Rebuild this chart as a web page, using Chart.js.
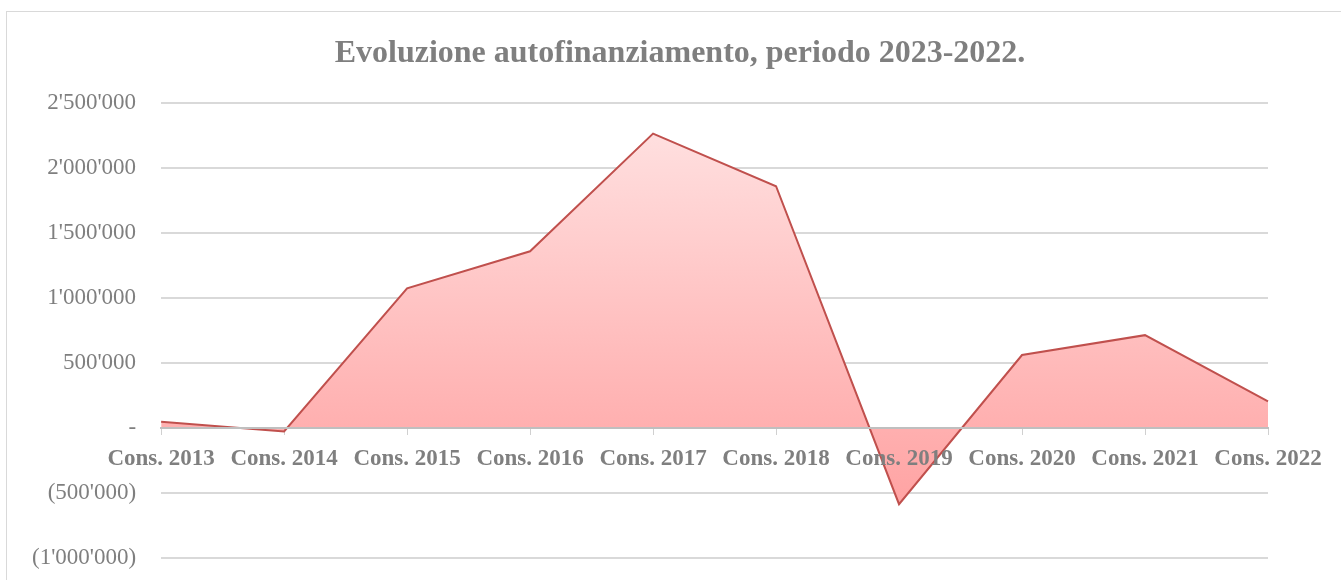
<!DOCTYPE html>
<html>
<head>
<meta charset="utf-8">
<script src="https://cdn.jsdelivr.net/npm/chart.js@4"></script>
<style>
  html, body { margin: 0; background: #fff; overflow: hidden; }
  #frame { position: absolute; left: 6px; top: 11px; width: 1400px; height: 600px; border: 1px solid #d9d9d9; }
  #wrap { position: absolute; left: 0; top: 0; width: 1341px; height: 597px; }
</style>
</head>
<body>
<div id="frame"></div>
<div id="wrap"><canvas id="chart"></canvas></div>
<script>
const labels = ['Cons. 2013', 'Cons. 2014', 'Cons. 2015', 'Cons. 2016', 'Cons. 2017', 'Cons. 2018', 'Cons. 2019', 'Cons. 2020', 'Cons. 2021', 'Cons. 2022'];
const autofinanziamento = [50000, -25000, 1075000, 1360000, 2265000, 1860000, -585000, 562000, 715000, 205000];
const yTicks = { min: -1000000, max: 2500000, step: 500000 };
const titleText = 'Evoluzione autofinanziamento, periodo 2023-2022.';

const grey = '#7f7f7f';
const serif = "'Liberation Serif', 'DejaVu Serif', serif";

function fmt(v) {
  const s = Math.abs(v).toString().replace(/\B(?=(\d{3})+(?!\d))/g, "'");
  if (v === 0) return '-';
  return v < 0 ? '(' + s + ')' : s;
}

// title centred on the frame, not on the padded layout box
const frameTitle = {
  id: 'frameTitle',
  afterDraw(chart) {
    const { ctx } = chart;
    ctx.save();
    ctx.font = 'bold 32px ' + serif;
    ctx.fillStyle = grey;
    ctx.textAlign = 'center';
    ctx.textBaseline = 'alphabetic';
    ctx.fillText(titleText, 680, 62);
    ctx.restore();
  },
};

const config = {
  type: 'line',
  data: {
    labels: labels,
    datasets: [
      {
        label: 'Autofinanziamento',
        data: autofinanziamento,
        borderColor: '#c0504d',
        borderWidth: 2,
        pointRadius: 0,
        tension: 0,
        fill: 'origin',
        backgroundColor: (context) => {
          const { chart } = context;
          const { ctx, chartArea, scales } = chart;
          if (!chartArea) return '#ffc0c0';
          const top = scales.y.getPixelForValue(Math.max(...autofinanziamento));
          const bottom = scales.y.getPixelForValue(Math.min(...autofinanziamento));
          const g = ctx.createLinearGradient(0, top, 0, bottom);
          g.addColorStop(0, '#ffdfdf');
          g.addColorStop(1, '#ffa3a3');
          return g;
        },
      },
    ],
  },
  options: {
    responsive: true,
    maintainAspectRatio: false,
    animation: false,
    layout: {
      padding: { left: 7, right: 73, top: 103, bottom: 0 },
    },
    scales: {
      x: {
        position: { y: 0 },
        offset: false,
        grid: { drawOnChartArea: false, drawTicks: true, tickLength: 6, color: '#d0d0d0' },
        border: { color: '#bfbfbf', width: 2, z: 1 },
        ticks: {
          z: 1,
          color: grey,
          autoSkip: false,
          maxRotation: 0,
          padding: 11,
          font: { family: serif, size: 23, weight: 'bold' },
        },
      },
      y: {
        min: yTicks.min,
        max: yTicks.max,
        ticks: {
          stepSize: yTicks.step,
          color: grey,
          padding: 25,
          callback: (value) => fmt(value),
          font: { family: serif, size: 23 },
        },
        grid: { color: '#d9d9d9', lineWidth: 2, drawTicks: false },
        border: { display: false },
      },
    },
    plugins: {
      legend: { display: false },
      tooltip: { enabled: false },
      title: { display: false, text: titleText },
    },
  },
  plugins: [frameTitle],
};

new Chart(document.getElementById('chart'), config);
</script>
</body>
</html>
